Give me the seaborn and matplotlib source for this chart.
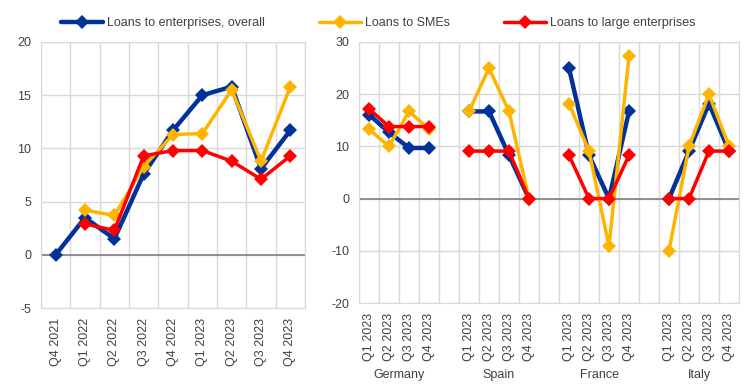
import numpy as np
import pandas as pd
import matplotlib
matplotlib.use("Agg")
import matplotlib.pyplot as plt
import seaborn as sns

# Left panel: euro area, quarterly
quarters = ["Q4 2021", "Q1 2022", "Q2 2022", "Q3 2022", "Q4 2022",
            "Q1 2023", "Q2 2023", "Q3 2023", "Q4 2023"]
ea_overall = [0.0, 3.5, 1.5, 7.6, 11.7, 15.0, 15.8, 8.1, 11.7]
ea_smes = [np.nan, 4.2, 3.7, 8.3, 11.3, 11.4, 15.5, 8.8, 15.8]
ea_large = [np.nan, 2.9, 2.3, 9.3, 9.8, 9.8, 8.8, 7.1, 9.3]

# Right panel: countries, 2023 quarters
countries = ["Germany", "Spain", "France", "Italy"]
q2023 = ["Q1 2023", "Q2 2023", "Q3 2023", "Q4 2023"]
cty_overall = {
    "Germany": [16.1, 12.7, 9.7, 9.7],
    "Spain": [16.7, 16.7, 8.3, 0.0],
    "France": [25.0, 8.3, 0.0, 16.7],
    "Italy": [0.0, 9.1, 18.2, 9.1],
}
cty_smes = {
    "Germany": [13.3, 10.0, 16.7, 13.3],
    "Spain": [16.7, 25.0, 16.7, 0.0],
    "France": [18.2, 9.1, -9.1, 27.3],
    "Italy": [-10.0, 10.0, 20.0, 10.0],
}
cty_large = {
    "Germany": [17.2, 13.8, 13.8, 13.8],
    "Spain": [9.1, 9.1, 9.1, 0.0],
    "France": [8.3, 0.0, 0.0, 8.3],
    "Italy": [0.0, 0.0, 9.1, 9.1],
}

labels = ["Loans to enterprises, overall", "Loans to SMEs", "Loans to large enterprises"]
colors = ["#003299", "#FFB400", "#FF0000"]
widths = [3.2, 2.5, 2.5]

sns.set_style("white")
plt.rcParams["font.family"] = ["Liberation Sans", "DejaVu Sans"]
plt.rcParams["axes.unicode_minus"] = False
plt.rcParams["text.color"] = "#404040"
plt.rcParams["xtick.color"] = "#404040"
plt.rcParams["ytick.color"] = "#404040"

fig = plt.figure(figsize=(7.44, 3.87), dpi=100)
ax1 = fig.add_axes([0.0551, 0.204, 0.3549, 0.6875])
ax2 = fig.add_axes([0.4825, 0.217, 0.5108, 0.6745])

grid_c = "#d9d9d9"

# left panel
df1 = pd.DataFrame({"pos": np.arange(len(quarters))})
for lab, vals, c, w in zip(labels, [ea_overall, ea_smes, ea_large], colors, widths):
    d = df1.assign(val=vals).dropna()
    sns.lineplot(data=d, x="pos", y="val", ax=ax1, color=c, lw=w, marker="D",
                 markersize=7, markeredgewidth=0, label=lab, legend=False)
ax1.set_xlim(-0.5, len(quarters) - 0.5)
ax1.set_ylim(-5, 20)
ax1.set_yticks([-5, 0, 5, 10, 15, 20])
ax1.set_xticks(np.arange(len(quarters)))
ax1.set_xticklabels(quarters, rotation=90)

# right panel: 4 countries, 4 quarters each, one empty slot between groups
tick_pos, tick_lab = [], []
for i, cty in enumerate(countries):
    pos = np.arange(4) + i * 5
    tick_pos += list(pos)
    tick_lab += q2023
    for vals, c, w in zip([cty_overall[cty], cty_smes[cty], cty_large[cty]], colors, widths):
        sns.lineplot(x=pos, y=vals, ax=ax2, color=c, lw=w, marker="D",
                     markersize=7, markeredgewidth=0, legend=False)
    ax2.text(pos.mean(), -0.275, cty, transform=ax2.get_xaxis_transform(),
             ha="center", va="center", fontsize=9)
ax2.set_xlim(-0.5, 18.5)
ax2.set_ylim(-20, 30)
ax2.set_yticks([-20, -10, 0, 10, 20, 30])
ax2.set_xticks(tick_pos)
ax2.set_xticklabels(tick_lab, rotation=90)

for ax, n in [(ax1, len(quarters)), (ax2, 19)]:
    ax.set_xlabel("")
    ax.set_ylabel("")
    ax.set_xticks(np.arange(n + 1) - 0.5, minor=True)
    ax.grid(which="minor", axis="x", color=grid_c, lw=1)
    ax.grid(which="major", axis="y", color=grid_c, lw=1)
    ax.grid(which="major", axis="x", visible=False)
    ax.axhline(0, color="#808080", lw=1.2, zorder=1.5)
    ax.tick_params(axis="both", which="both", length=0, labelsize=9, pad=7)
    ax.set_axisbelow(True)
    for s in ax.spines.values():
        s.set_color(grid_c)

fig.legend(handles=ax1.get_lines()[:3], labels=labels, loc="center",
           bbox_to_anchor=(0.508, 0.94), ncol=3, frameon=False, fontsize=9,
           handlelength=3.4, columnspacing=4.3, handletextpad=0.3)

fig.savefig("out.png", dpi=100)
